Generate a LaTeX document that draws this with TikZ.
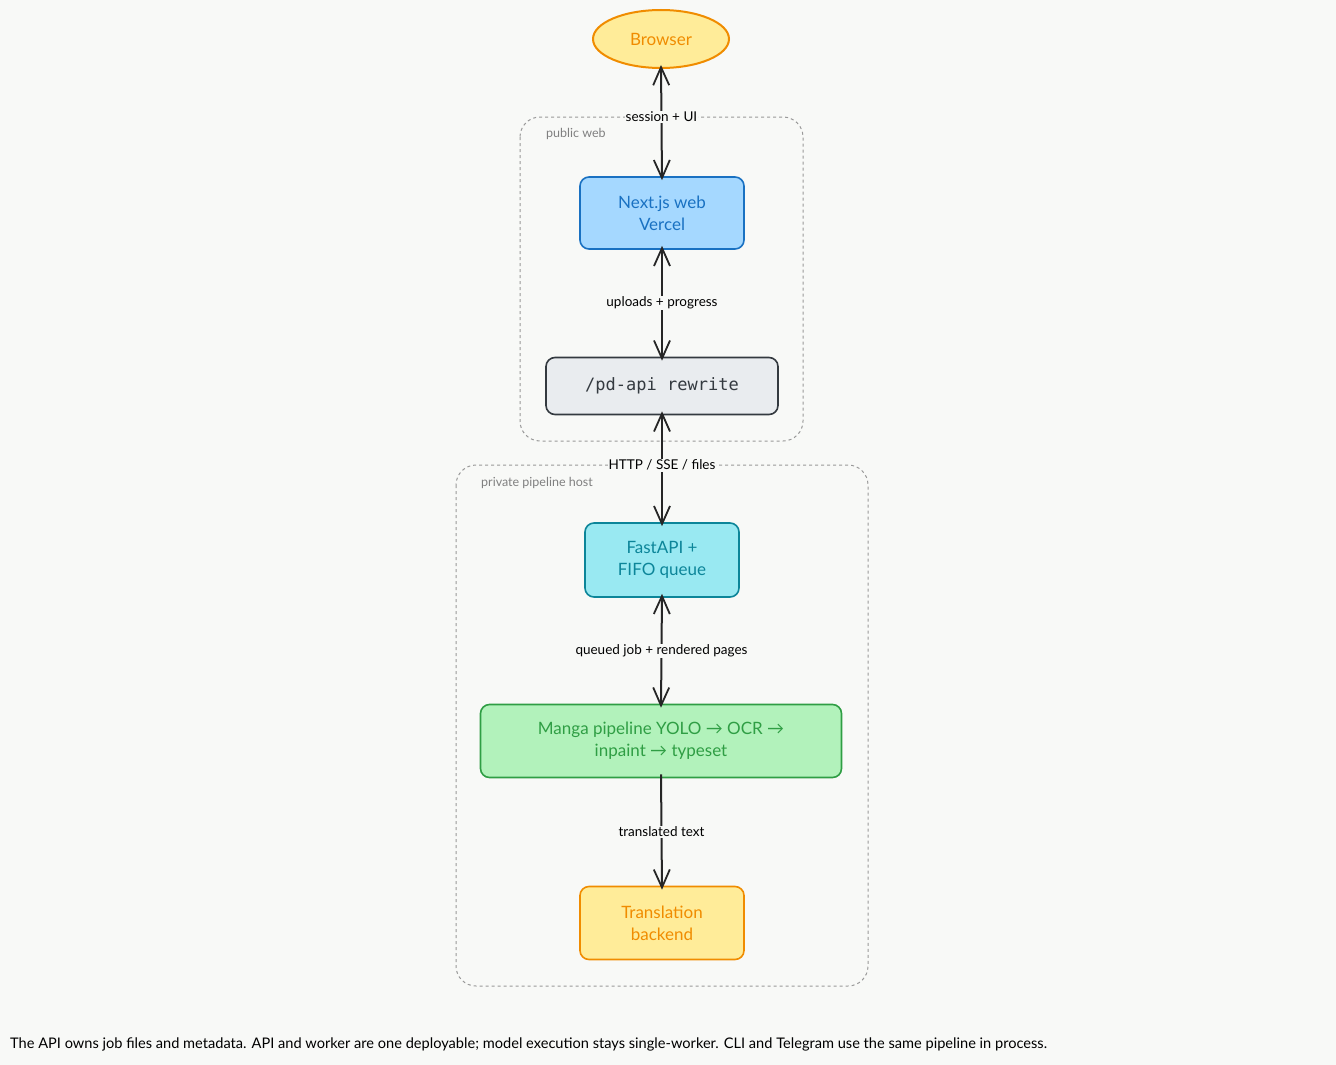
\documentclass[tikz,border=0pt]{standalone}
\usepackage{fontspec}
\setmainfont{Lato}
\setmonofont{DejaVu Sans Mono}
\usetikzlibrary{arrows.meta,shapes.geometric}
\definecolor{bg}{HTML}{F8F9F7}
\definecolor{oS}{HTML}{F08C00}\definecolor{oF}{HTML}{FFEC99}
\definecolor{bS}{HTML}{1971C2}\definecolor{bF}{HTML}{A5D8FF}
\definecolor{gS}{HTML}{343A40}\definecolor{gF}{HTML}{E9ECEF}
\definecolor{tS}{HTML}{0C8599}\definecolor{tF}{HTML}{99E9F2}
\definecolor{nS}{HTML}{2F9E44}\definecolor{nF}{HTML}{B2F2BB}
\tikzset{hd/.tip={Straight Barb[length=18pt,width=16pt,line width=1.8pt]}}
\begin{document}
\begin{tikzpicture}[x=1pt,y=-1pt,
  box/.style={draw,rounded corners=9pt,line width=1.6pt,align=center,font=\fontsize{17}{22}\selectfont},
  grp/.style={draw=gray!80,dashed,line width=1pt,rounded corners=20pt},
  glab/.style={text=gray,font=\fontsize{12.5}{14}\selectfont,anchor=west,inner sep=0},
  conn/.style={line width=2pt,draw=black!85},
  lab/.style={fill=bg,inner sep=1pt,font=\fontsize{13.5}{16}\selectfont}]
\fill[bg] (0,0) rectangle (1336,1065);
\useasboundingbox (0,0) rectangle (1336,1065);
\draw[grp] (520,117) rectangle (803,441);
\node[glab] (gpub) at (546,134) {public web};
\draw[grp] (456,465) rectangle (868,986);
\node[glab] (gpriv) at (481,483) {private pipeline host};
\node[ellipse,draw=oS,fill=oF,line width=2pt,minimum width=136,minimum height=58,text=oS,font=\fontsize{17}{20}\selectfont] (br) at (661,39) {Browser};
\node[box,draw=bS,fill=bF,text=bS,minimum width=164,minimum height=72] (nx) at (662,213) {Next.js web\\Vercel};
\node[box,draw=gS,fill=gF,text=gS,minimum width=232,minimum height=57,font=\ttfamily\fontsize{17}{20}\selectfont] (pd) at (662,386) {/pd-api rewrite};
\node[box,draw=tS,fill=tF,text=tS,minimum width=154,minimum height=74] (fa) at (662,560) {FastAPI +\\FIFO queue};
\node[box,draw=nS,fill=nF,text=nS,minimum width=361,minimum height=73] (mg) at (661,741) {Manga pipeline YOLO → OCR →\\inpaint → typeset};
\node[box,draw=oS,fill=oF,text=oS,minimum width=164,minimum height=73] (tr) at (662,923) {Translation\\backend};
\draw[conn,{hd}-{hd}] ([yshift=4]br.south) -- ([yshift=-4]nx.north) node[lab,pos=0.45] {session + UI};
\draw[conn,{hd}-{hd}] ([yshift=4]nx.south) -- ([yshift=-4]pd.north) node[lab,midway] {uploads + progress};
\draw[conn,{hd}-{hd}] ([yshift=4]pd.south) -- ([yshift=-4]fa.north) node[lab,pos=0.47] {HTTP / SSE / files};
\draw[conn,{hd}-{hd}] ([yshift=4]fa.south) -- ([yshift=-4]mg.north) node[lab,midway] {queued job + rendered pages};
\draw[conn,-{hd}] ([yshift=4]mg.south) -- ([yshift=-4]tr.north) node[lab,midway] {translated text};
\node[anchor=west,inner sep=0,font=\fontsize{14.6}{17}\selectfont] (note) at (10,1044) {The API owns job files and metadata. API and worker are one deployable; model execution stays single-worker. CLI and Telegram use the same pipeline in process.};
\end{tikzpicture}
\end{document}
